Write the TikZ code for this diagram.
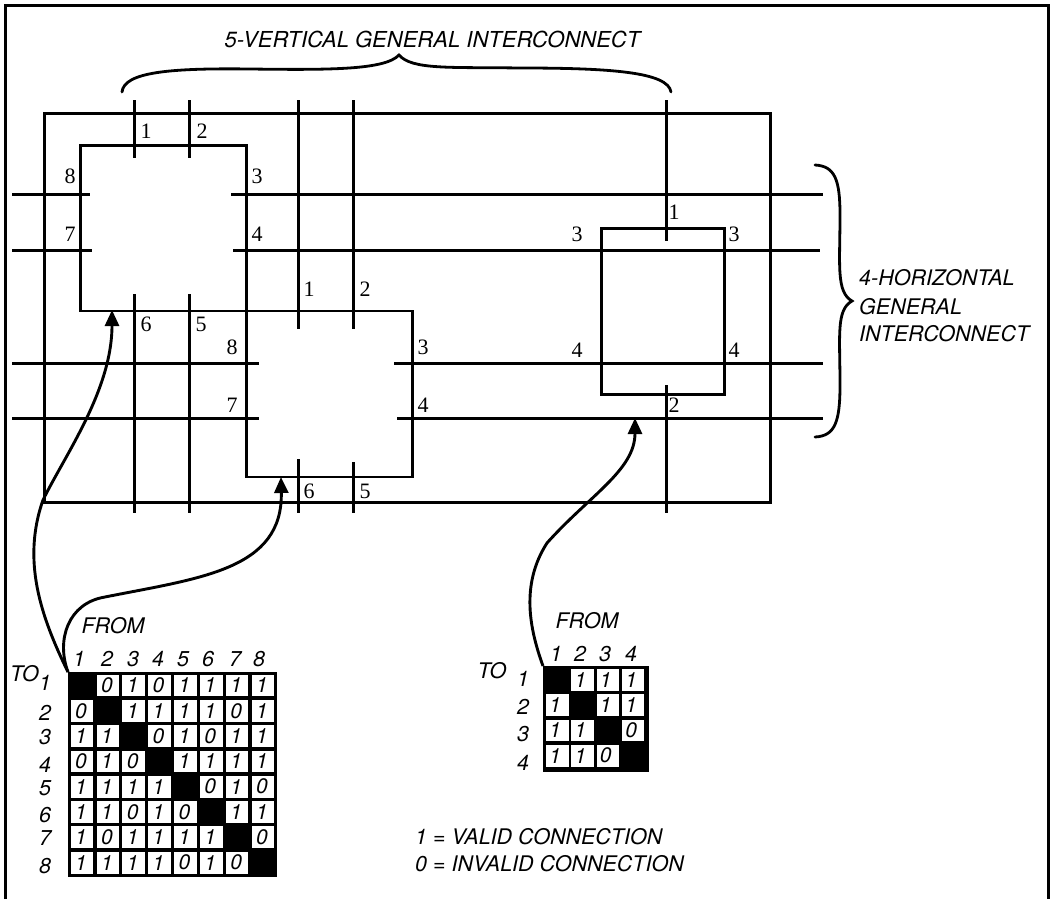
\documentclass[tikz,border=0pt]{standalone}
\usepackage{fontspec}
\setmainfont{TeX Gyre Heros}
\newfontfamily\pinfont{Liberation Serif}
\usetikzlibrary{arrows.meta}
\tikzset{
  wire/.style={line width=3pt},
  frameline/.style={line width=3pt},
  bracket/.style={line width=2.8pt,line cap=round},
  arrowline/.style={line width=2.9pt,-{Triangle[width=14pt,length=16pt]},shorten >=-1pt},
  block/.style={draw,line width=2.9pt,rectangle,inner sep=0pt,minimum width=#1},
  pin/.style={font=\pinfont\fontsize{22}{22}\selectfont,inner sep=0pt},
  lab/.style={font=\itshape\fontsize{21.5}{24}\selectfont,inner sep=0pt},
  big/.style={font=\itshape\fontsize{22}{26}\selectfont,inner sep=0pt},
  side/.style={font=\itshape\fontsize{21.5}{26}\selectfont,inner sep=0pt},
  cellw/.style={fill=white,inner sep=0pt,minimum width=22.6pt,minimum height=21.8pt,font=\itshape\fontsize{21}{21}\selectfont},
  matback/.style={fill=black,inner sep=0pt},
}
\begin{document}
\begin{tikzpicture}[x=1pt,y=-1pt]
\useasboundingbox (0,0) rectangle (1051,899);
% outer frame
\coordinate (fbl) at (5.5,899); \coordinate (ftl) at (5.5,6);
\coordinate (ftr) at (1048,6); \coordinate (fbr) at (1048,899);
\draw[frameline] (fbl) -- (ftl) -- (ftr) -- (fbr);
% big rectangle
\node[block=726pt,minimum height=389pt,anchor=north west] (chip) at (43,112) {};
% blocks
\node[block=166pt,minimum height=165.5pt,anchor=north west] (A) at (79,144) {};
\node[block=166pt,minimum height=166pt,anchor=north west] (B) at (245,309.5) {};
\node[block=123pt,minimum height=166pt,anchor=north west] (C) at (600,227) {};
% vertical wires
\foreach \n/\x/\a/\b/\c/\d in {a/134.5/100/158/294/513,b/189.5/100/158/294/513,c/298.5/100/329/459/513,d/353.5/100/329/462/513,e/666.5/100/241/385/513}{
  \coordinate (\n1) at (\x,\a); \coordinate (\n2) at (\x,\b);
  \coordinate (\n3) at (\x,\c); \coordinate (\n4) at (\x,\d);
  \draw[wire] (\n1) -- (\n2); \draw[wire] (\n3) -- (\n4);
}
% horizontal wires
\foreach \n/\y/\a/\b/\c/\d in {p/194.5/12/90/231/823,q/250.5/12/92/233/820,r/363.5/12/259/394/823,s/418.5/12/259/397/823}{
  \coordinate (\n1) at (\a,\y); \coordinate (\n2) at (\b,\y);
  \coordinate (\n3) at (\c,\y); \coordinate (\n4) at (\d,\y);
  \draw[wire] (\n1) -- (\n2); \draw[wire] (\n3) -- (\n4);
}
% pin labels
\foreach \n/\t/\x/\y in {
 a1/1/146/131,a2/2/202/131,a3/3/257/176,a4/4/257/234,a8/8/70/176,a7/7/70/234,a6/6/146/324,a5/5/201/324,
 b1/1/309/289,b2/2/365/289,b3/3/423/347,b4/4/423/405,b8/8/232/347,b7/7/232/405,b6/6/309/491,b5/5/365/491,
 c1/1/674/212,c3l/3/577/234,c3r/3/734/234,c4l/4/577/350,c4r/4/734/350,c2/2/674/405}
  \node[pin] (pin\n) at (\x,\y) {\t};
% braces
\coordinate (bt1) at (122,92); \coordinate (bt2) at (399,55); \coordinate (bt3) at (671,92);
\draw[bracket] (bt1) .. controls (124,72) and (170,68) .. (250,69)
   .. controls (330,70) and (385,70) .. (bt2)
   .. controls (412,70) and (450,67) .. (520,68)
   .. controls (610,68) and (668,72) .. (bt3);
\coordinate (br1) at (815,165); \coordinate (br2) at (852,301); \coordinate (br3) at (815,437);
\draw[bracket] (br1) .. controls (835,166) and (840,180) .. (840,215)
   .. controls (840,265) and (836,292) .. (br2)
   .. controls (836,310) and (840,335) .. (840,385)
   .. controls (840,422) and (835,436) .. (br3);
% matrix 1
\node[matback,anchor=north west,minimum width=209pt,minimum height=205pt] (m1) at (68,672) {};
\foreach \row [count=\r from 0] in {{X,0,1,0,1,1,1,1},{0,X,1,1,1,1,0,1},{1,1,X,0,1,0,1,1},{0,1,0,X,1,1,1,1},{1,1,1,1,X,0,1,0},{1,1,0,1,0,X,1,1},{1,0,1,1,1,1,X,0},{1,1,1,1,0,1,0,X}}{
  \foreach \v [count=\c from 0] in \row {
    \if\v X\else
      \pgfmathsetmacro\cx{82+25.85*\c}
      \pgfmathsetmacro\cy{685.5+25.3*\r}
      \node[cellw] (ma\r\c) at (\cx,\cy) {\hspace*{-2pt}\v};
    \fi
  }
}
\foreach \t/\x [count=\i] in {1/79,2/107,3/133,4/158,5/183,6/208,7/235,8/259}
  \node[lab] (mac\i) at (\x,659) {\t};
\foreach \t/\y [count=\i] in {1/683,2/713,3/737,4/765,5/788,6/815,7/838,8/866}
  \node[lab] (mar\i) at (45,\y) {\t};
\node[lab] (to1) at (24.5,674) {TO};
\node[lab] (from1) at (113,626) {FROM};
% matrix 2
\node[matback,anchor=north west,minimum width=106pt,minimum height=106pt] (m2) at (543,666) {};
\foreach \row [count=\r from 0] in {{X,1,1,1},{1,X,1,1},{1,1,X,0},{1,1,0,X}}{
  \foreach \v [count=\c from 0] in \row {
    \if\v X\else
      \pgfmathsetmacro\cx{557.2+25.3*\c}
      \pgfmathsetmacro\cy{680+25.2*\r}
      \node[cellw] (mb\r\c) at (\cx,\cy) {\hspace*{-4pt}\v};
    \fi
  }
}
\foreach \t/\x [count=\i] in {1/556,2/580,3/605,4/631}
  \node[lab] (mbc\i) at (\x,654) {\t};
\foreach \t/\y [count=\i] in {1/679,2/707,3/734,4/763}
  \node[lab] (mbr\i) at (523,\y) {\t};
\node[lab] (to2) at (492,671) {TO};
\node[lab] (from2) at (587,621) {FROM};
% arrows
\coordinate (t1) at (112,311); \coordinate (t2) at (281,478); \coordinate (t3) at (635,419);
\draw[arrowline] (m1.north west) .. controls (40,615) and (22,560) .. (43,500)
   .. controls (65,455) and (112,390) .. (t1);
\draw[arrowline] (m1.north west) .. controls (56,640) and (68,603) .. (105,597)
   .. controls (200,578) and (283,570) .. (t2);
\draw[arrowline] (m2.north west) .. controls (530,630) and (520,585) .. (547,543)
   .. controls (590,495) and (635,470) .. (t3);
% titles
\node[big] (title) at (432.5,39) {5-VERTICAL GENERAL INTERCONNECT};
\node[side,anchor=west] (h1) at (859,278) {4-HORIZONTAL};
\node[side,anchor=west] (h2) at (859,307) {GENERAL};
\node[side,anchor=west] (h3) at (859,334) {INTERCONNECT};
\node[side,anchor=west] (leg1) at (415,837) {1 = VALID CONNECTION};
\node[side,anchor=west] (leg0) at (415,864) {0 = INVALID CONNECTION};
\end{tikzpicture}
\end{document}
